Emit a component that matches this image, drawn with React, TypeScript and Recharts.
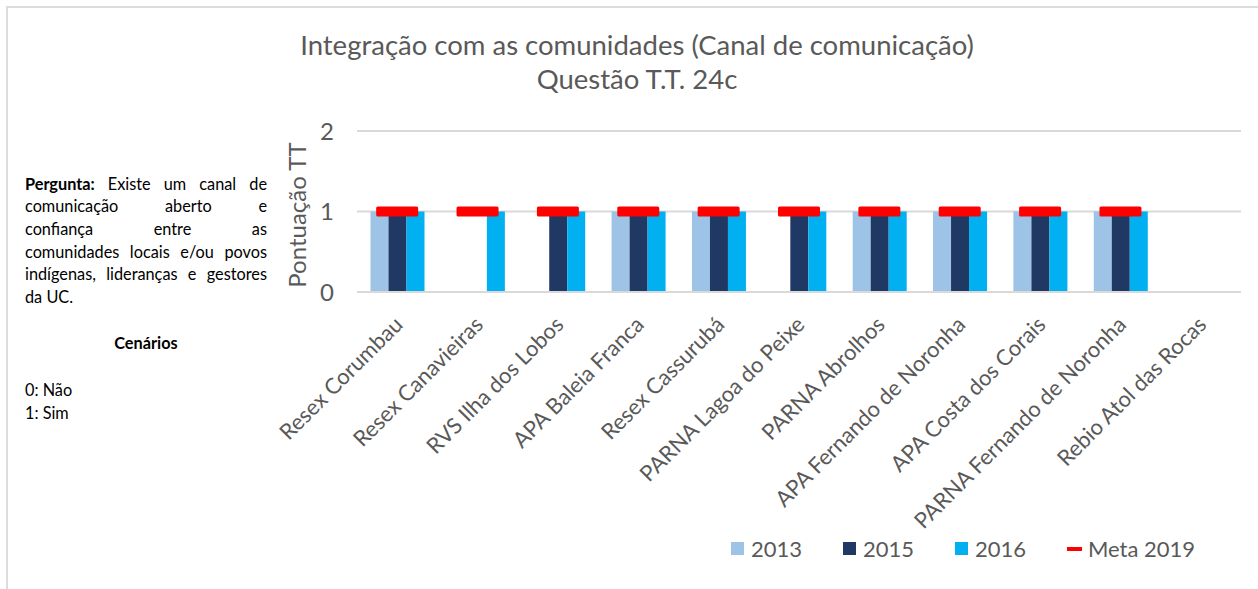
import React from 'react';
import { ComposedChart, Bar, Line, XAxis, YAxis, CartesianGrid, Legend } from 'recharts';

const categories = [
  'Resex Corumbau',
  'Resex Canavieiras',
  'RVS Ilha dos Lobos',
  'APA Baleia Franca',
  'Resex Cassurubá',
  'PARNA Lagoa do Peixe',
  'PARNA Abrolhos',
  'APA Fernando de Noronha',
  'APA Costa dos Corais',
  'PARNA Fernando de Noronha',
  'Rebio Atol das Rocas',
];
const values2013 = [1, 0, 0, 1, 1, 0, 1, 1, 1, 1, null];
const values2015 = [1, 0, 1, 1, 1, 1, 1, 1, 1, 1, null];
const values2016 = [1, 1, 1, 1, 1, 1, 1, 1, 1, 1, null];
const meta2019 = [1, 1, 1, 1, 1, 1, 1, 1, 1, 1, null];
const yTicks = [0, 1, 2];

const seriesNames = { s2013: '2013', s2015: '2015', s2016: '2016', meta: 'Meta 2019' };
const colors = { s2013: '#9DC3E6', s2015: '#203864', s2016: '#00B0F0', meta: '#FF0000' };

const data = categories.map((c, i) => ({
  name: c,
  s2013: values2013[i],
  s2015: values2015[i],
  s2016: values2016[i],
  meta: meta2019[i],
}));

const FONT = 'Lato, "Open Sans", sans-serif';
const TXT = '#595959';

const XTick = (props: any) => {
  const { x, y, payload } = props;
  return (
    <g transform={`translate(${x + 7},${y + 34})`}>
      <text x={0} y={0} textAnchor="end" transform="rotate(-45)" fill={TXT} fontSize={22} fontFamily={FONT}>
        {payload.value}
      </text>
    </g>
  );
};

const MetaDot = (props: any) => {
  const { cx, cy, payload } = props;
  if (payload == null || payload.meta == null || cx == null || cy == null) return null;
  return <rect x={cx - 21} y={cy - 5} width={42} height={10} rx={1.5} fill={colors.meta} />;
};

const LegendContent = (props: any) => {
  const { payload } = props;
  return (
    <div style={{ display: 'flex', alignItems: 'center', fontFamily: FONT, fontSize: 22, color: TXT }}>
      {(payload || []).map((p: any) => {
        const key = p.dataKey as keyof typeof colors;
        const isMeta = key === 'meta';
        return (
          <div key={String(key)} style={{ display: 'flex', alignItems: 'center', width: isMeta ? 160 : 112 }}>
            {isMeta ? (
              <span style={{ display: 'inline-block', width: 15, height: 4, background: colors.meta, marginRight: 6 }} />
            ) : (
              <span style={{ display: 'inline-block', width: 13, height: 13, background: colors[key], marginRight: 7 }} />
            )}
            <span>{p.value}</span>
          </div>
        );
      })}
    </div>
  );
};

const lineStyle: React.CSSProperties = {
  textAlign: 'justify',
  textAlignLast: 'justify' as any,
  whiteSpace: 'nowrap',
  height: 22.7,
  lineHeight: '22.7px',
};

export default function App() {
  return (
    <div style={{ position: 'absolute', left: 0, top: 0, width: 1258, height: 589, overflow: 'hidden', background: '#fff' }}>
      <div style={{ position: 'absolute', left: 6, top: 6, width: 1400, height: 800, borderLeft: '2px solid #dcdcdc', borderTop: '2px solid #dcdcdc' }} />
      <div style={{ position: 'absolute', left: 237, top: 28, width: 800, textAlign: 'center', fontFamily: FONT, fontSize: 27.5, color: TXT, lineHeight: '34px' }}>
        <div>Integração com as comunidades (Canal de comunicação)</div>
        <div>Questão T.T. 24c</div>
      </div>
      <div style={{ position: 'absolute', left: 25, top: 172.6, width: 242, fontFamily: FONT, fontSize: 16.3, color: '#000' }}>
        <div style={lineStyle}><b>Pergunta:</b> Existe um canal de</div>
        <div style={lineStyle}>comunicação aberto e</div>
        <div style={lineStyle}>confiança entre as</div>
        <div style={lineStyle}>comunidades locais e/ou povos</div>
        <div style={lineStyle}>indígenas, lideranças e gestores</div>
        <div style={{ ...lineStyle, textAlignLast: 'left' as any }}>da UC.</div>
      </div>
      <div style={{ position: 'absolute', left: 25, top: 332, width: 242, textAlign: 'center', fontFamily: FONT, fontSize: 16.3, fontWeight: 700, color: '#000', lineHeight: '22px' }}>
        Cenários
      </div>
      <div style={{ position: 'absolute', left: 25, top: 378, fontFamily: FONT, fontSize: 16.3, color: '#000', lineHeight: '23px' }}>
        <div>0: Não</div>
        <div>1: Sim</div>
      </div>
      <div style={{ position: 'absolute', left: 297 - 100, top: 215 - 15, width: 200, height: 30, lineHeight: '30px', textAlign: 'center', transform: 'rotate(-90deg)', fontFamily: FONT, fontSize: 24, color: TXT }}>
        Pontuação TT
      </div>
      <div style={{ position: 'absolute', left: 0, top: 0 }}>
        <ComposedChart
          width={1258}
          height={589}
          data={data}
          margin={{ top: 131, right: 17, left: 307, bottom: 97 }}
          barCategoryGap="16.8%"
          barGap={0}
        >
          <CartesianGrid vertical={false} stroke="#d9d9d9" strokeWidth={2} />
          <XAxis
            dataKey="name"
            interval={0}
            height={200}
            axisLine={{ stroke: '#d9d9d9', strokeWidth: 2 }}
            tickLine={false}
            tickSize={0}
            tickMargin={0}
            tick={<XTick />}
          />
          <YAxis
            width={50}
            domain={[0, 2]}
            ticks={yTicks}
            axisLine={false}
            tickLine={false}
            tickSize={0}
            tickMargin={23}
            tick={{ fill: TXT, fontSize: 24, fontFamily: FONT }}
          />
          <Legend
            layout="vertical"
            align="center"
            verticalAlign="middle"
            wrapperStyle={{ top: 535, left: 731, width: 520 }}
            content={<LegendContent />}
          />
          <Bar dataKey="s2013" name={seriesNames.s2013} fill={colors.s2013} isAnimationActive={false} />
          <Bar dataKey="s2015" name={seriesNames.s2015} fill={colors.s2015} isAnimationActive={false} />
          <Bar dataKey="s2016" name={seriesNames.s2016} fill={colors.s2016} isAnimationActive={false} />
          <Line
            dataKey="meta"
            name={seriesNames.meta}
            stroke="none"
            dot={<MetaDot />}
            activeDot={false}
            isAnimationActive={false}
          />
        </ComposedChart>
      </div>
    </div>
  );
}
